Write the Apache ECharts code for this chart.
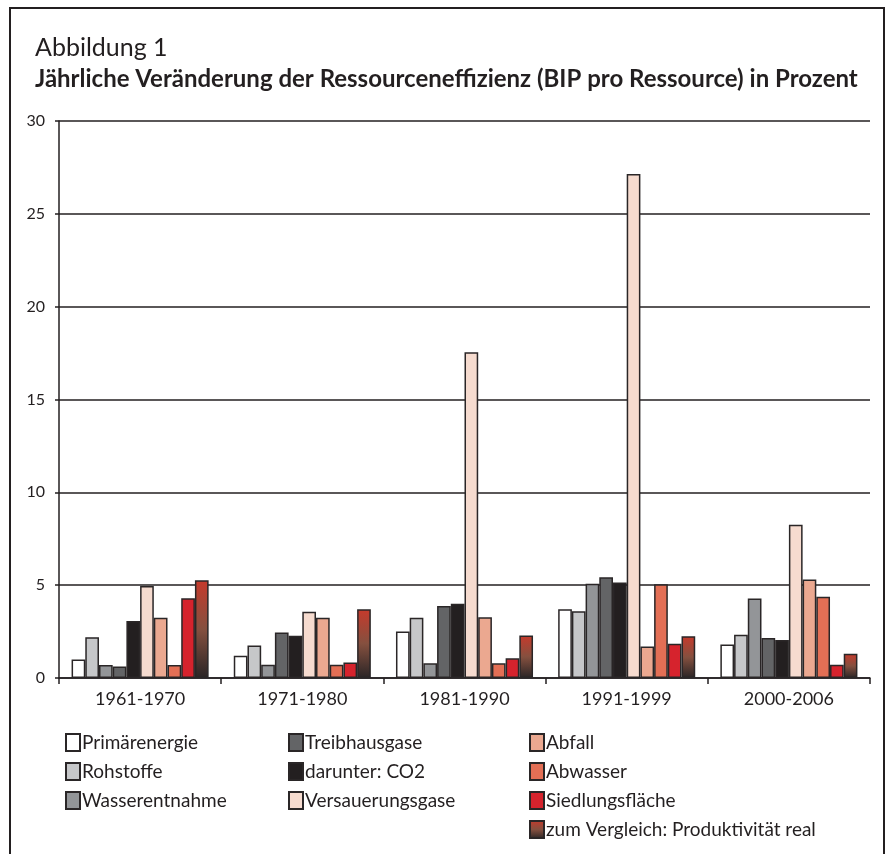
<!DOCTYPE html>
<html><head><meta charset="utf-8">
<script src="https://cdn.jsdelivr.net/npm/echarts@6/dist/echarts.min.js"></script>
<style>html,body{margin:0;padding:0;background:#fff}#c{width:895px;height:854px}</style>
</head><body><div id="c"></div>
<script>
var categories = ['1961-1970','1971-1980','1981-1990','1991-1999','2000-2006'];
var seriesNames = ['Primärenergie','Rohstoffe','Wasserentnahme','Treibhausgase','darunter: CO2','Versauerungsgase','Abfall','Abwasser','Siedlungsfläche','zum Vergleich: Produktivität real'];
var primaerenergie = [1.0, 1.2, 2.5, 3.7, 1.8];
var rohstoffe = [2.2, 1.75, 3.25, 3.6, 2.33];
var wasserentnahme = [0.7, 0.72, 0.79, 5.08, 4.28];
var treibhausgase = [0.62, 2.45, 3.88, 5.42, 2.15];
var co2 = [3.07, 2.27, 4.0, 5.14, 2.04];
var versauerungsgase = [4.96, 3.57, 17.55, 27.14, 8.25];
var abfall = [3.25, 3.25, 3.27, 1.7, 5.3];
var abwasser = [0.7, 0.72, 0.79, 5.05, 4.37];
var siedlungsflaeche = [4.3, 0.83, 1.06, 1.85, 0.72];
var produktivitaet = [5.27, 3.7, 2.29, 2.25, 1.3];
var yTicks = [0, 5, 10, 15, 20, 25, 30];

var values = [primaerenergie, rohstoffe, wasserentnahme, treibhausgase, co2, versauerungsgase, abfall, abwasser, siedlungsflaeche, produktivitaet];
var grad = new echarts.graphic.LinearGradient(0,0,0,1,[{offset:0,color:'#c63a2c'},{offset:0.5,color:'#85503f'},{offset:1,color:'#2a2526'}]);
var colors = ['#ffffff','#c6c7c9','#939598','#636466','#231f20','#f6dbcf','#eba890','#e36f55','#d6232d',grad];
var FONT = 'Lato';
var series = seriesNames.map(function(n,i){
  return {name:n,type:'bar',data:values[i],barGap:'0%',barWidth:'8.45%',
    itemStyle:{color:colors[i],borderColor:'#2a2627',borderWidth:1.5},
    emphasis:{disabled:true}};
});
function lg(names,left,top){
  return {data:names,left:left,top:top,orient:'vertical',itemGap:10,itemWidth:14,itemHeight:17,
    icon:'rect',selectedMode:false,
    textStyle:{fontFamily:FONT,fontSize:19,color:'#231f20',padding:[0,0,0,-3]}};
}
var chart = echarts.init(document.getElementById('c'));
chart.setOption({
  animation:false,
  textStyle:{fontFamily:FONT},
  graphic:[
    {type:'rect',shape:{x:10,y:8,width:874,height:860},style:{fill:'none',stroke:'#231f20',lineWidth:2}},
    {type:'text',left:35,top:35,style:{text:'Abbildung 1',font:'25px '+FONT,fill:'#231f20'}},
    {type:'text',left:35,top:67,style:{text:'Jährliche Veränderung der Ressourceneffizienz (BIP pro Ressource) in Prozent',font:'bold 24px '+FONT,fill:'#231f20'}}
  ],
  legend:[lg(seriesNames.slice(0,3),60,728),lg(seriesNames.slice(3,6),283,728),lg(seriesNames.slice(6,10),524,728)],
  grid:{left:59,right:25,top:121,bottom:176,containLabel:false},
  xAxis:{type:'category',data:categories,
    axisLine:{lineStyle:{color:'#231f20',width:1.5}},
    axisTick:{show:true,alignWithLabel:false,length:6,inside:false,lineStyle:{color:'#231f20',width:1.5}},
    axisLabel:{fontFamily:FONT,fontSize:18,color:'#231f20',margin:12}},
  yAxis:{type:'value',min:0,max:30,interval:5,
    axisLine:{show:true,lineStyle:{color:'#231f20',width:1.5}},
    axisTick:{show:true,length:4,lineStyle:{color:'#231f20',width:1.5}},
    splitLine:{lineStyle:{color:'#231f20',width:1.5}},
    axisLabel:{fontFamily:FONT,fontSize:16,color:'#231f20',margin:14,
      formatter:function(v){return yTicks.indexOf(v)>=0?String(v):'';}}},
  series:series
});
</script></body></html>
